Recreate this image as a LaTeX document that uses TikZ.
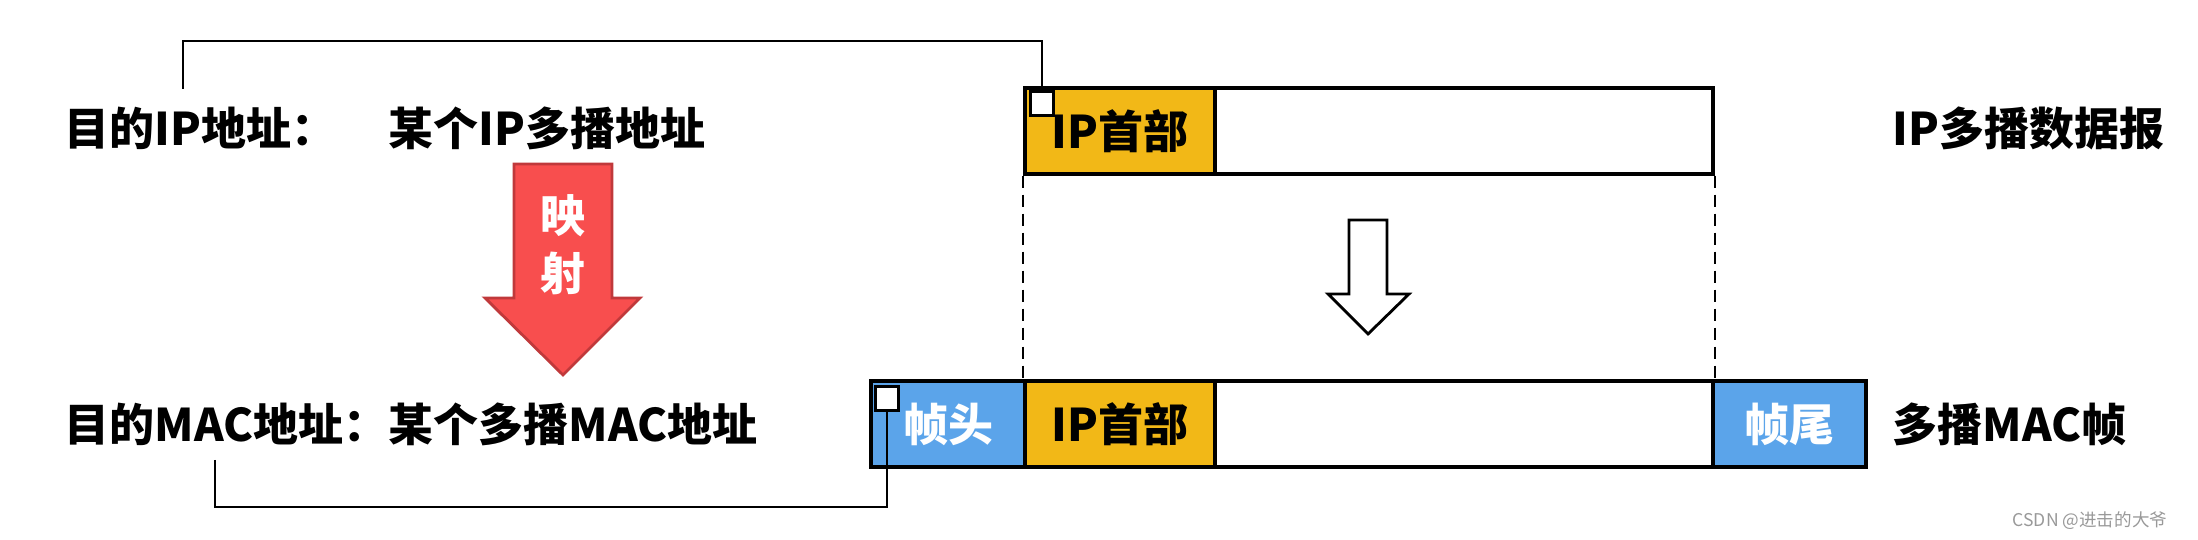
\documentclass[tikz,border=0pt]{standalone}
\usepackage{fontspec}
\newfontfamily\cjk{Noto Sans CJK SC}
\usepackage{tikz}
\usetikzlibrary{shapes,arrows}

\definecolor{hdryellow}{HTML}{F2B817}
\definecolor{frmblue}{HTML}{5BA4EA}
\definecolor{mapred}{HTML}{F84E4E}
\definecolor{mapredline}{HTML}{C0393B}

\begin{document}
\begin{tikzpicture}[x=0.1mm,y=-0.1mm,
                every node/.style={font=\cjk\bfseries\fontsize{12.8pt}{15pt}\selectfont,inner sep=0pt},
                field/.style={draw,line width=0.9pt,minimum height=8.6mm},
                tagbox/.style={draw,fill=white,line width=0.9pt,minimum width=2.3mm,minimum height=2.4mm},
                label/.style={anchor=west}]
  \useasboundingbox (0,0) rectangle (2198,540);
  % IP datagram
  \node[field,fill=hdryellow,minimum width=19mm]   (iphdr)  at (1120,131) {IP首部};
  \node[field,minimum width=49.8mm]                (ipdata) at (1464,131) {};
  % MAC frame
  \node[field,fill=frmblue,minimum width=15.4mm,text=white] (fhead) at (948,424) {帧头};
  \node[field,fill=hdryellow,minimum width=19mm]   (iphdr2)  at (1120,424) {IP首部};
  \node[field,minimum width=49.8mm]                (ipdata2) at (1464,424) {};
  \node[field,fill=frmblue,minimum width=15.3mm,text=white] (ftail) at (1789.5,424) {帧尾};
  \node[tagbox] (tagip)  at (1042,103.5) {};
  \node[tagbox] (tagmac) at (887,398.5) {};
  % labels
  \node[label] (dstip)   at (64,128) {目的IP地址：};
  \node[label] (mcip)    at (388,128) {某个IP多播地址};
  \node[label] (dstmac)  at (64,424) {目的MAC地址：};
  \node[label] (mcmac)   at (388,424) {某个多播MAC地址};
  \node[label] (dgram)   at (1892,128) {IP多播数据报};
  \node[label] (mframe)  at (1892,424) {多播MAC帧};
  \node[label,font=\cjk\fontsize{5pt}{6pt}\selectfont,text=black!40] (mark) at (2012,521) {CSDN @进击的大爷};
  % mapping arrow
  \draw[fill=mapred,draw=mapredline,line width=0.8pt]
    (514,164) -- (612,164) -- (612,298) -- (640,298) -- (563,375) -- (485,298) -- (514,298) -- cycle;
  \node[text=white] (map1) at (563,216) {映};
  \node[text=white] (map2) at (563,273) {射};
  \draw[line width=0.8pt,fill=white]
    (1349,220) -- (1387,220) -- (1387,294) -- (1409,294) -- (1368,334) -- (1328,294) -- (1349,294) -- cycle;
  % connectors
  \coordinate (ipend)  at (183,89);
  \coordinate (macend) at (215,460);
  \draw[line width=0.8pt] (ipend) -- ++(0,-48) -| (tagip.north);
  \draw[line width=0.8pt] (macend) -- ++(0,47) -| (tagmac.south);
  \draw[dash pattern=on 1.2mm off 0.7mm,line width=0.6pt] (iphdr.south west) -- (iphdr2.north west);
  \draw[dash pattern=on 1.2mm off 0.7mm,line width=0.6pt] (ipdata.south east) -- (ipdata2.north east);
\end{tikzpicture}
\end{document}
